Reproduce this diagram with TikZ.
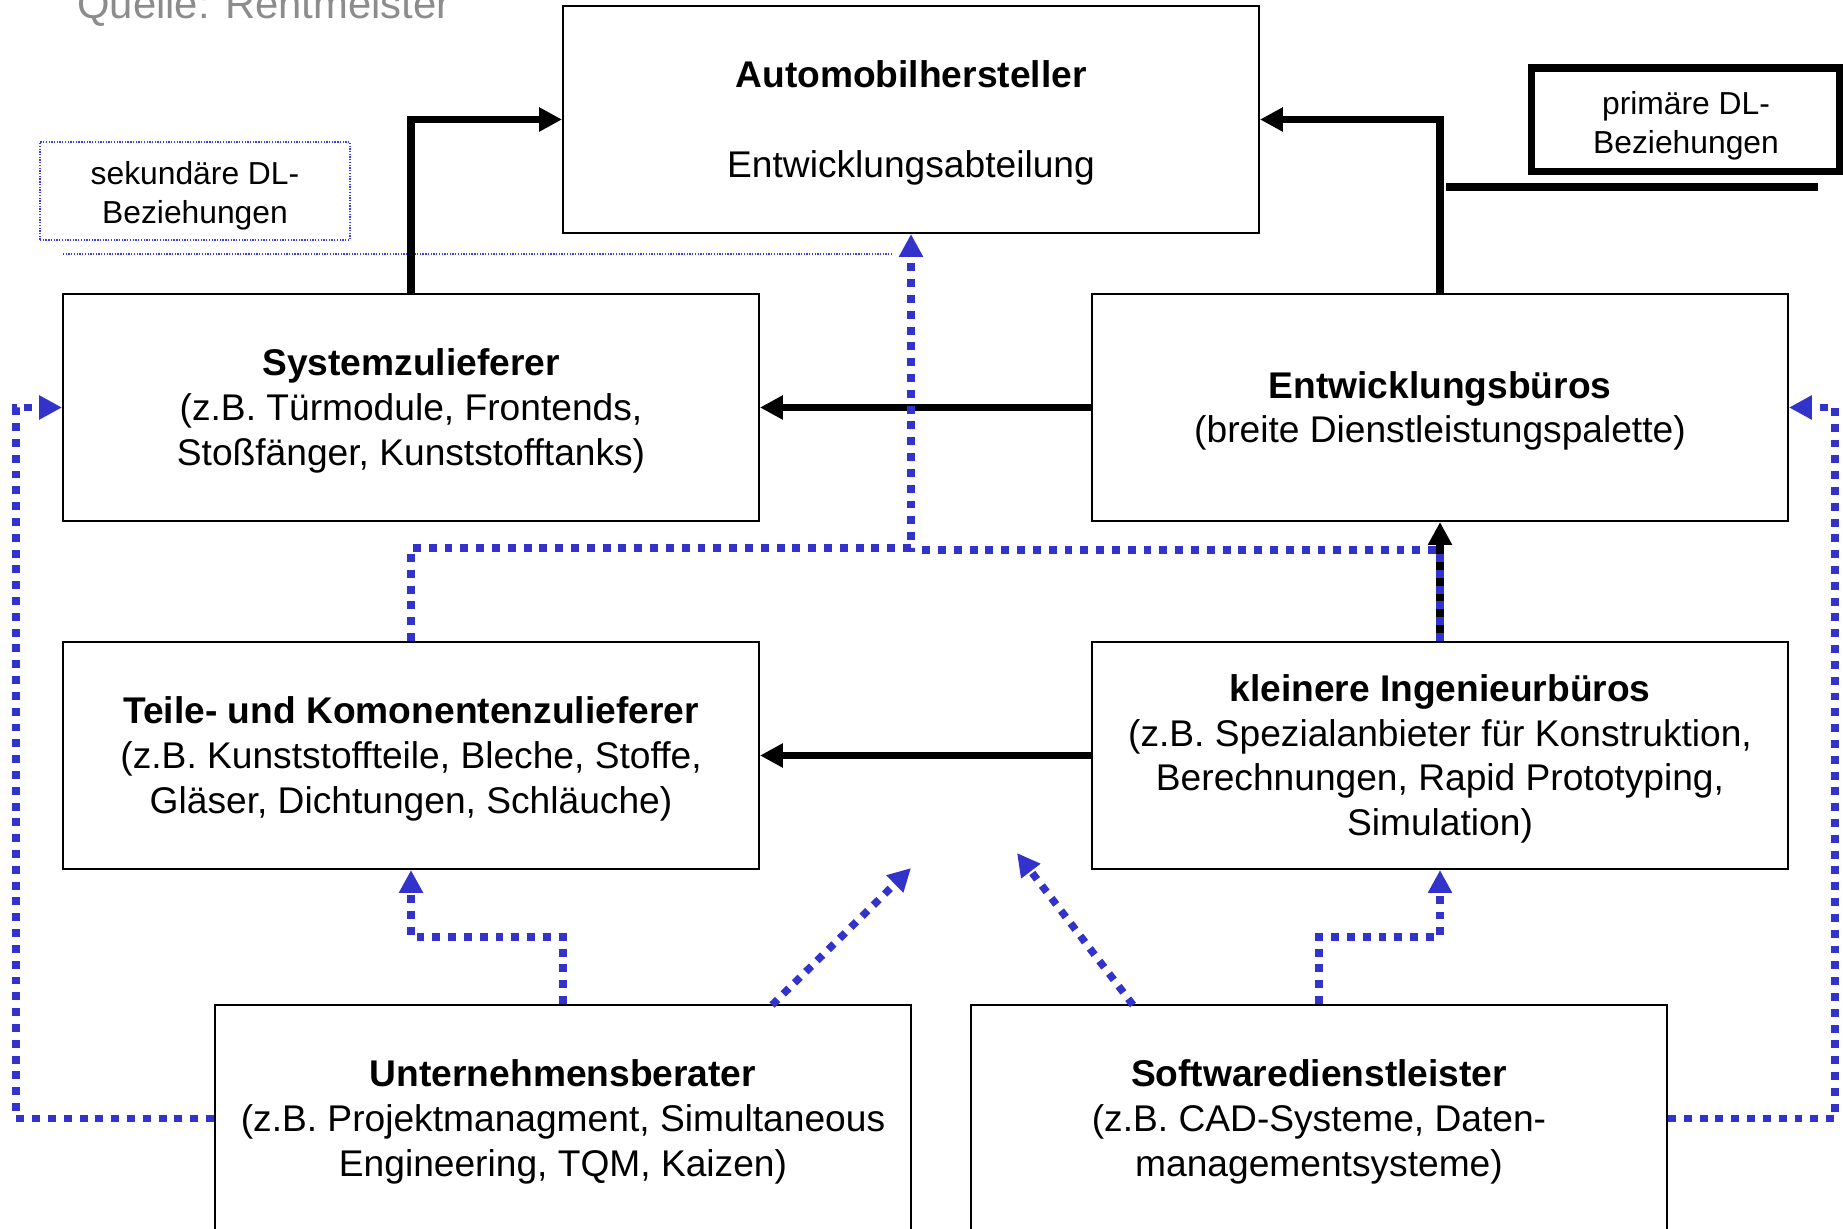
\documentclass[tikz,border=0pt]{standalone}
\usepackage{fontspec}
\setmainfont{Liberation Sans}
\usetikzlibrary{arrows.meta}
\definecolor{dlblue}{RGB}{51,51,204}
\definecolor{thinblue}{RGB}{60,60,235}
\definecolor{srcgray}{RGB}{140,140,140}
\begin{document}
\begin{tikzpicture}[x=0.02cm,y=-0.02cm,
  box/.style={draw, line width=1.2pt, minimum width=13.92cm, minimum height=4.54cm, inner sep=0pt},
  boxtext/.style={align=center, inner sep=0pt, font=\fontsize{21.15}{25.4}\selectfont},
  prim/.style={line width=4.25pt, -{Triangle[length=13pt,width=13pt]}},
  primline/.style={line width=4.25pt},
  secline/.style={color=dlblue, line width=4.25pt, dash pattern=on 4.5pt off 4.5pt},
  sec/.style={secline, -{Triangle[length=13pt,width=13pt]}},
  thindot/.style={draw=thinblue, line width=0.75pt, dash pattern=on 0.75pt off 0.8pt},
  legtext/.style={align=center, inner sep=0pt, font=\fontsize{18.1}{22.1}\selectfont}
]
\useasboundingbox (0,0) rectangle (1843,1229);

% source
\node[anchor=base west, inner sep=0pt, text=srcgray, font=\fontsize{23.8}{28}\selectfont] (src) at (77,18.5) {Quelle: Rentmeister};

% boxes
\node[box] (A) at (911,119.5) {};
\node[box] (S) at (411,407.5) {};
\node[box] (E) at (1440,407.5) {};
\node[box] (T) at (411,755.5) {};
\node[box] (K) at (1440,755.5) {};
\node[box] (U) at (563,1118.5) {};
\node[box] (W) at (1319,1118.5) {};

% box texts
\node[boxtext] (At) at ([yshift=-0.07cm]A.center) {\textbf{Automobilhersteller}\\[25.4pt]Entwicklungsabteilung};
\node[boxtext] (St) at ([yshift=-0.07cm]S.center) {\textbf{Systemzulieferer}\\(z.B. Türmodule, Frontends,\\Stoßfänger, Kunststofftanks)};
\node[boxtext] (Et) at ([yshift=-0.07cm]E.center) {\textbf{Entwicklungsbüros}\\(breite Dienstleistungspalette)};
\node[boxtext] (Tt) at ([yshift=-0.07cm]T.center) {\textbf{Teile- und Komonentenzulieferer}\\(z.B. Kunststoffteile, Bleche, Stoffe,\\Gläser, Dichtungen, Schläuche)};
\node[boxtext] (Kt) at ([yshift=-0.07cm]K.center) {\textbf{kleinere Ingenieurbüros}\\(z.B. Spezialanbieter für Konstruktion,\\Berechnungen, Rapid Prototyping,\\Simulation)};
\node[boxtext] (Ut) at ([yshift=-0.07cm]U.center) {\textbf{Unternehmensberater}\\(z.B. Projektmanagment, Simultaneous\\Engineering, TQM, Kaizen)};
\node[boxtext] (Wt) at ([yshift=-0.07cm]W.center) {\textbf{Softwaredienstleister}\\(z.B. CAD-Systeme, Daten-\\managementsysteme)};

% legend
\node[draw, line width=4pt, minimum width=6.18cm, minimum height=2.08cm, inner sep=0pt] (Lp) at (1685.5,120) {};
\node[legtext] (Lpt) at (1686,125.5) {primäre DL-\\Beziehungen};
\coordinate (lp1) at (1446,187);
\coordinate (lp2) at (1818,187);
\draw[primline] (lp1) -- (lp2);

\node[thindot, minimum width=6.2cm, minimum height=1.96cm, inner sep=0pt] (Ls) at (195,191) {};
\node[legtext] (Lst) at (195,195.5) {sekundäre DL-\\Beziehungen};
\coordinate (ls1) at (63,254);
\coordinate (ls2) at (893,254);
\draw[thindot] (ls1) -- (ls2);

% primary connectors
\draw[prim] (S.north) |- (A.west);
\draw[prim] (E.north) |- (A.east);
\draw[prim] (E.west) -- (S.east);
\draw[prim] (K.west) -- (T.east);
\draw[prim] (K.north) -- (E.south);

% secondary connectors
\draw[sec] (T.north) -- (411,548) -- (911,548) -- (A.south);
\draw[secline] (K.north) -- (1440,550) -- (917,550);
\draw[sec] (U.west) -- (16,1118.5) -- (16,407.5) -- (S.west);
\draw[sec] (W.east) -- (1835,1118.5) -- (1835,407.5) -- (E.east);
\draw[sec] (U.north) -- (563,937) -- (411,937) -- (T.south);
\draw[sec] (W.north) -- (1319,937) -- (1440,937) -- (K.south);
\coordinate (u1) at (772,1005);
\coordinate (d1) at (911,868);
\draw[sec] (u1) -- (d1);
\coordinate (w1) at (1133,1005);
\coordinate (d2) at (1017,853);
\draw[sec] (w1) -- (d2);
\end{tikzpicture}
\end{document}
